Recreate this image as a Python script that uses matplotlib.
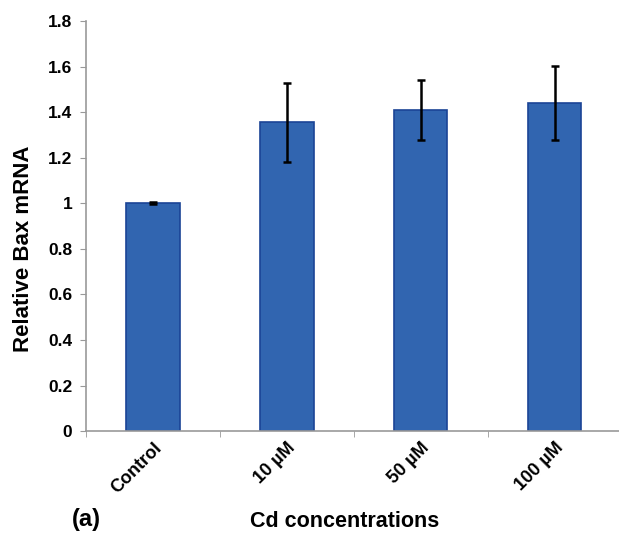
import matplotlib.pyplot as plt
import numpy as np

plt.rcParams['font.family'] = ['Liberation Sans', 'DejaVu Sans']
plt.rcParams['font.weight'] = 'bold'

categories = ["Control", "10 µM", "50 µM", "100 µM"]
values = [1.0, 1.355, 1.41, 1.44]
errors = [0.004, 0.172, 0.132, 0.162]

fig = plt.figure(figsize=(6.19, 5.41), dpi=100)
ax = fig.add_axes([0.139, 0.203, 0.865, 0.758])

x = np.arange(len(categories))
ax.bar(x, values, width=0.4, color='#3165B0', edgecolor='#1B4496', linewidth=1.2,
       yerr=errors, capsize=3, error_kw=dict(ecolor='black', elinewidth=1.8, capthick=1.8))

ax.set_xlim(-0.5, 3.5)
ax.set_ylim(0, 1.8)
ax.set_yticks(np.arange(0, 1.81, 0.2))
ax.set_yticklabels(["0", "0.2", "0.4", "0.6", "0.8", "1", "1.2", "1.4", "1.6", "1.8"])
ax.set_xticks(x)
ax.set_xticklabels(categories, rotation=45, ha='right', rotation_mode='anchor', fontsize=13)
ax.set_xticks(np.arange(-0.5, 3.6, 1), minor=True)
ax.tick_params(axis='x', which='major', length=0, pad=6)
ax.tick_params(axis='x', which='minor', length=4, color='#999999')
ax.tick_params(axis='y', length=4, color='#999999', labelsize=12.5, pad=6)

for s in ['top', 'right']:
    ax.spines[s].set_visible(False)
for s in ['left', 'bottom']:
    ax.spines[s].set_color('#999999')
    ax.spines[s].set_linewidth(1.2)

ax.set_ylabel("Relative Bax mRNA", fontsize=16, fontweight='bold')
ax.yaxis.set_label_coords(-0.097, 0.445)
fig.text(0.556, 0.036, "Cd concentrations", ha='center', va='center', fontsize=15.5, fontweight='bold')
fig.text(0.14, 0.04, "(a)", ha='center', va='center', fontsize=17, fontweight='bold')

fig.savefig("out.png", dpi=100)
